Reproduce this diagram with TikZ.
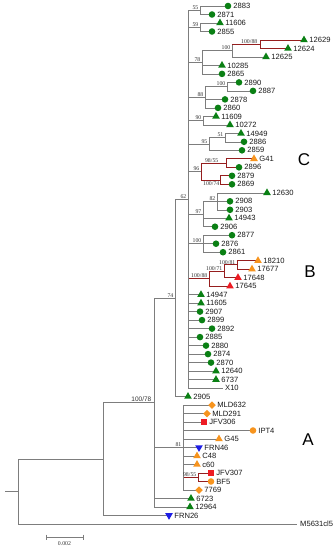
\documentclass[tikz,border=0pt]{standalone}
\usepackage{fontspec}
\setmainfont{Liberation Serif}
\newfontfamily\arialf{Liberation Sans}
\usetikzlibrary{shapes.geometric,calc}
\definecolor{cgreen}{RGB}{10,128,20}
\definecolor{corange}{RGB}{247,148,30}
\definecolor{cred}{RGB}{237,28,36}
\definecolor{cblue}{RGB}{30,30,230}
\definecolor{cbr}{RGB}{125,125,125}
\definecolor{cdred}{RGB}{150,30,30}
\tikzset{
 gbr/.style={draw=cbr, line width=0.6pt},
 rbr/.style={draw=cdred, line width=1pt},
 mk/.style={inner sep=0pt, outer sep=0pt, draw=none},
 gc/.style={mk, circle, fill=cgreen, minimum size=6.6pt},
 oc/.style={mk, circle, fill=corange, minimum size=6.6pt},
 gt/.style={mk, regular polygon, regular polygon sides=3, fill=cgreen, minimum size=8.8pt},
 ot/.style={mk, regular polygon, regular polygon sides=3, fill=corange, minimum size=8.8pt},
 rt/.style={mk, regular polygon, regular polygon sides=3, fill=cred, minimum size=8.8pt},
 bt/.style={mk, regular polygon, regular polygon sides=3, shape border rotate=180, fill=cblue, minimum size=8.8pt},
 od/.style={mk, diamond, fill=corange, minimum size=7.5pt},
 rs/.style={mk, rectangle, fill=cred, minimum size=6.3pt},
 lbl/.style={font=\arialf\fontsize{7.6}{8}\selectfont, anchor=west, inner sep=0pt, text=black!90},
 bs/.style={font=\fontsize{5.8}{6}\selectfont, inner sep=0pt, text=black!80},
 bss/.style={font=\arialf\fontsize{6.5}{7}\selectfont, inner sep=0pt, text=black!80},
 grp/.style={font=\arialf\fontsize{17}{18}\selectfont, inner sep=0pt},
}
% leaf: #1 branch style, #2 parent, #3 name, #4 x, #5 y, #6 marker style, #7 text
\newcommand{\lf}[7]{%
  \coordinate (#3) at (#4,#5);
  \draw[#1] (#2) |- (#3);
  \node[#6] (#3m) at (#3) {};
  \node[lbl] (#3t) at ([xshift=5.2pt]#3) {#7};
}
% inner node: #1 branch style, #2 parent, #3 name, #4 x, #5 y
\newcommand{\inn}[5]{%
  \coordinate (#3) at (#4,#5);
  \draw[#1] (#2) |- (#3);
}
% red inner node hanging from a grey vertical
\newcommand{\innh}[4]{%
  \coordinate (#2) at (#3,#4);
  \draw[gbr] (#1) -- (#1 |- #2);
  \draw[rbr] (#1 |- #2) -- (#2);
}
\newcommand{\bsv}[3][]{\node[bs, anchor=south east, #1] (b#2) at ([xshift=-1.5pt,yshift=0.6pt]#2) {#3};}
\begin{document}
\begin{tikzpicture}[x=1pt,y=-1pt]
\useasboundingbox (0,0) rectangle (334,550);
\fill[white] (0,0) rectangle (334,550);
% root
\coordinate (r0) at (5,491.4);
\coordinate (r) at (18,491.4);
\draw[gbr] (r0) -- (r);
\inn{gbr}{r}{n1}{103}{458.9}
\inn{gbr}{n1}{n10078}{154}{402.4}
\inn{gbr}{n10078}{n74}{175}{297.85}
\inn{gbr}{n74}{n62}{188}{199.2}
% clade C region
\inn{gbr}{n62}{n55}{200}{10.25}
\lf{gbr}{n55}{l2883}{228}{6}{gc}{2883}
\lf{gbr}{n55}{l2871}{212}{14.5}{gc}{2871}
\inn{gbr}{n62}{n59}{200}{27.25}
\lf{gbr}{n59}{l11606}{220}{23}{gt}{11606}
\lf{gbr}{n59}{l2855}{212}{31.5}{gc}{2855}
\inn{gbr}{n62}{n78}{202}{62.25}
\inn{gbr}{n78}{nA100}{232}{50.6}
\innh{nA100}{nR1}{260}{44.25}
\lf{rbr}{nR1}{l12629}{304}{40}{gt}{12629}
\lf{rbr}{nR1}{l12624}{288}{48.5}{gt}{12624}
\lf{gbr}{nA100}{l12625}{266}{56.9}{gt}{12625}
\lf{gbr}{n78}{l10285}{222}{65.4}{gt}{10285}
\lf{gbr}{n78}{l2865}{222}{73.9}{gc}{2865}
\inn{gbr}{n62}{n88}{205}{97.3}
\inn{gbr}{n88}{nB100}{227}{86.65}
\lf{gbr}{nB100}{l2890}{239}{82.4}{gc}{2890}
\lf{gbr}{nB100}{l2887}{253}{90.9}{gc}{2887}
\lf{gbr}{n88}{l2878}{225}{99.4}{gc}{2878}
\lf{gbr}{n88}{l2860}{218}{107.9}{gc}{2860}
\inn{gbr}{n62}{n90}{203}{120.65}
\lf{gbr}{n90}{l11609}{216}{116.4}{gt}{11609}
\lf{gbr}{n90}{l10272}{230}{124.9}{gt}{10272}
\inn{gbr}{n62}{n95}{209}{143.95}
\inn{gbr}{n95}{n51}{225}{137.6}
\lf{gbr}{n51}{l14949}{241}{133.4}{gt}{14949}
\lf{gbr}{n51}{l2886}{244}{141.8}{gc}{2886}
\lf{gbr}{n95}{l2859}{242}{150.3}{gc}{2859}
\inn{gbr}{n62}{n96}{201}{171.55}
\inn{rbr}{n96}{n9855}{226}{163.05}
\lf{rbr}{n9855}{lG41}{254}{158.8}{ot}{G41}
\lf{rbr}{n9855}{l2896}{239}{167.3}{gc}{2896}
\inn{rbr}{n96}{n10074}{220}{180.05}
\lf{rbr}{n10074}{l2879}{232}{175.8}{gc}{2879}
\lf{rbr}{n10074}{l2869}{232}{184.3}{gc}{2869}
\inn{gbr}{n62}{n97}{203}{214}
\inn{gbr}{n97}{n82}{217}{201.3}
\lf{gbr}{n82}{l12630}{267}{192.8}{gt}{12630}
\lf{gbr}{n82}{l2908}{230}{201.3}{gc}{2908}
\lf{gbr}{n82}{l2903}{230}{209.8}{gc}{2903}
\lf{gbr}{n97}{l14943}{229}{218.2}{gt}{14943}
\lf{gbr}{n97}{l2906}{215}{226.7}{gc}{2906}
\inn{gbr}{n62}{n100c}{203}{243.7}
\lf{gbr}{n100c}{l2877}{232}{235.2}{gc}{2877}
\lf{gbr}{n100c}{l2876}{216}{243.7}{gc}{2876}
\lf{gbr}{n100c}{l2861}{223}{252.2}{gc}{2861}
% clade B
\innh{n62}{nB}{209}{278.75}
\inn{rbr}{nB}{n10071}{224}{271.3}
\inn{rbr}{n10071}{n10081}{237}{264.95}
\lf{rbr}{n10081}{l18210}{258}{260.7}{ot}{18210}
\lf{rbr}{n10081}{l17677}{252}{269.2}{ot}{17677}
\lf{rbr}{n10071}{l17648}{238}{277.7}{rt}{17648}
\lf{rbr}{nB}{l17645}{230}{286.2}{rt}{17645}
% polytomy
\lf{gbr}{n62}{l14947}{201}{294.7}{gt}{14947}
\lf{gbr}{n62}{l11605}{201}{303.2}{gt}{11605}
\lf{gbr}{n62}{l2907}{200}{311.6}{gc}{2907}
\lf{gbr}{n62}{l2899}{202}{320.1}{gc}{2899}
\lf{gbr}{n62}{l2892}{212}{328.6}{gc}{2892}
\lf{gbr}{n62}{l2885}{200}{337.1}{gc}{2885}
\lf{gbr}{n62}{l2880}{206}{345.6}{gc}{2880}
\lf{gbr}{n62}{l2874}{208}{354.1}{gc}{2874}
\lf{gbr}{n62}{l2870}{211}{362.6}{gc}{2870}
\lf{gbr}{n62}{l12640}{216}{371.1}{gt}{12640}
\lf{gbr}{n62}{l6737}{216}{379.6}{gt}{6737}
\coordinate (lX10) at (223,388.1);
\draw[gbr] (n62) |- (lX10);
\node[lbl] (lX10t) at ([xshift=2pt]lX10) {X10};
\lf{gbr}{n74}{l2905}{188}{396.5}{gt}{2905}
% clade A
\inn{gbr}{n10078}{n81}{183}{447.5}
\lf{gbr}{n81}{lMLD632}{212}{405}{od}{MLD632}
\lf{gbr}{n81}{lMLD291}{207}{413.5}{od}{MLD291}
\lf{gbr}{n81}{lJFV306}{204}{422}{rs}{JFV306}
\lf{gbr}{n81}{lIPT4}{253}{430.5}{oc}{IPT4}
\lf{gbr}{n81}{lG45}{219}{439}{ot}{G45}
\lf{gbr}{n81}{lFRN46}{199}{447.5}{bt}{FRN46}
\lf{gbr}{n81}{lC48}{197}{456}{ot}{C48}
\lf{gbr}{n81}{lc60}{197}{464.5}{ot}{c60}
\innh{n81}{nRA}{198}{477.25}
\lf{rbr}{nRA}{lJFV307}{211}{473}{rs}{JFV307}
\lf{rbr}{nRA}{lBF5}{211}{481.5}{oc}{BF5}
\lf{gbr}{n81}{l7769}{199}{490}{od}{7769}
\lf{gbr}{n10078}{l6723}{191}{498.5}{gt}{6723}
\lf{gbr}{n10078}{l12964}{190}{507}{gt}{12964}
\lf{gbr}{n1}{lFRN26}{169}{515.4}{bt}{FRN26}
\coordinate (lM) at (297,523.9);
\draw[gbr] (r) |- (lM);
\node[lbl] (lMt) at ([xshift=3pt]lM) {M5631cl5};
% bootstrap values
\bsv{n55}{55}
\bsv{n59}{59}
\bsv{n78}{78}
\bsv{nA100}{100}
\bsv[xshift=-1pt]{nR1}{100/88}
\bsv{nB100}{100}
\bsv{n88}{88}
\bsv{n90}{90}
\bsv{n51}{51}
\bsv{n95}{95}
\bsv[xshift=-6pt]{n9855}{98/55}
\bsv{n96}{96}
\node[bs, anchor=north east] (bn10074) at ([xshift=-0.5pt,yshift=-1.5pt]n10074) {100/74};
\bsv{n82}{82}
\bsv{n97}{97}
\bsv{n100c}{100}
\bsv{n62}{62}
\bsv{n10081}{100/81}
\bsv{n10071}{100/71}
\bsv{nB}{100/88}
\bsv{n74}{74}
\node[bss, anchor=south east] (bn10078) at ([xshift=-2.5pt,yshift=1pt]n10078) {100/78};
\bsv{n81}{81}
\bsv{nRA}{98/55}
% group letters
\node[grp] (gC) at (304,160) {C};
\node[grp] (gB) at (310,272) {B};
\node[grp] (gA) at (308,440) {A};
% scale bar
\coordinate (sb1) at (46,537);
\coordinate (sb2) at (83,537);
\draw[gbr] (sb1) -- (sb2);
\draw[gbr] ([yshift=2.5pt]sb1) -- ([yshift=-2.5pt]sb1);
\draw[gbr] ([yshift=2.5pt]sb2) -- ([yshift=-2.5pt]sb2);
\node[bs, anchor=north] (sbt) at ($(sb1)!0.5!(sb2)+(0,4)$) {0.002};
\end{tikzpicture}
\end{document}
